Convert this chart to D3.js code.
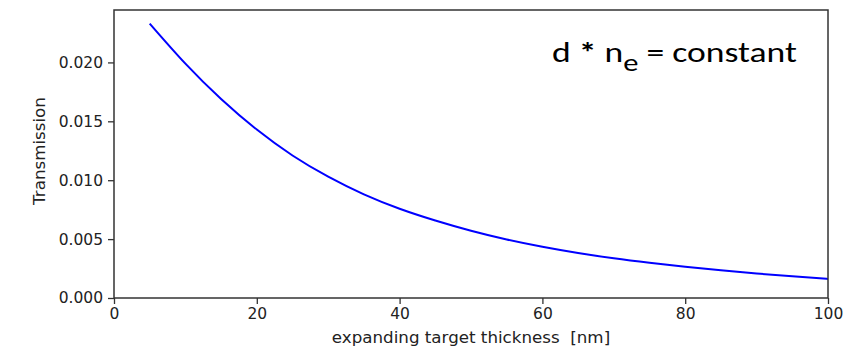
<!DOCTYPE html>
<html>
<head>
<meta charset="utf-8">
<script src="https://cdn.jsdelivr.net/npm/d3@7"></script>
<style>
  html, body { margin: 0; padding: 0; background: #fff; }
  svg { display: block; }
</style>
</head>
<body>
<svg id="chart" width="843" height="347"></svg>
<script>
// Target thickness in nm
const thickness = [5, 10, 15, 20, 25, 30, 35, 40, 45, 50, 55, 60, 65, 70, 75, 80, 85, 90, 95, 100];
// Transmission at constant areal density (d * n_e)
const transmission = [0.0233, 0.0199, 0.0169, 0.0143, 0.0121, 0.0103, 0.0088, 0.00758, 0.00658, 0.00571,
                      0.00497, 0.00435, 0.00382, 0.00337, 0.00299, 0.00265, 0.00235, 0.00208, 0.00184, 0.00162];
const xTicks = [0, 20, 40, 60, 80, 100];
const yTicks = [0, 0.005, 0.010, 0.015, 0.020];
const xDomain = [0, 100];
const yDomain = [0, 0.02445];

const svg = d3.select("#chart");
const margin = { left: 114, right: 15, top: 10, bottom: 49 };
const W = 843, H = 347;

const x = d3.scaleLinear().domain(xDomain).range([margin.left, W - margin.right]);
const y = d3.scaleLinear().domain(yDomain).range([H - margin.bottom, margin.top]);

const tickFont = "DejaVu Sans, sans-serif";
const axisColor = "#333";

// Curve
const line = d3.line()
  .x((d, i) => x(thickness[i]))
  .y(d => y(d))
  .curve(d3.curveNatural);

svg.append("path")
  .datum(transmission)
  .attr("d", line)
  .attr("fill", "none")
  .attr("stroke", "#0000ff")
  .attr("stroke-width", 2);

// Axes
const xAxis = d3.axisBottom(x).tickValues(xTicks).tickFormat(d3.format("d")).tickSize(6).tickPadding(4);
const yAxis = d3.axisLeft(y).tickValues(yTicks).tickFormat(d3.format(".3f")).tickSize(6).tickPadding(5);

const gx = svg.append("g").attr("transform", `translate(0,${H - margin.bottom})`).call(xAxis);
const gy = svg.append("g").attr("transform", `translate(${margin.left},0)`).call(yAxis);

[gx, gy].forEach(g => {
  g.select(".domain").remove();
  g.selectAll(".tick line").attr("stroke", axisColor).attr("stroke-width", 1.3);
  g.selectAll(".tick text")
    .attr("fill", "#222")
    .style("font-family", tickFont)
    .style("font-size", "15.5px");
});

// Frame around plot area
svg.append("rect")
  .attr("x", x(xDomain[0]))
  .attr("y", y(yDomain[1]))
  .attr("width", x(xDomain[1]) - x(xDomain[0]))
  .attr("height", y(yDomain[0]) - y(yDomain[1]))
  .attr("fill", "none")
  .attr("stroke", axisColor)
  .attr("stroke-width", 1.5);

// Axis titles
svg.append("text")
  .attr("x", 471)
  .attr("y", 343)
  .attr("text-anchor", "middle")
  .attr("fill", "#222")
  .attr("xml:space", "preserve")
  .style("font-family", tickFont)
  .style("font-size", "16.7px")
  .text("expanding target thickness  [nm]");

svg.append("text")
  .attr("transform", "translate(45,151) rotate(-90)")
  .attr("text-anchor", "middle")
  .attr("fill", "#222")
  .style("font-family", tickFont)
  .style("font-size", "16.7px")
  .text("Transmission");

// Annotation, stretched to its box width
const noteG = svg.append("g");
const note = noteG.append("text")
  .attr("x", 0)
  .attr("y", 0)
  .attr("fill", "#000")
  .attr("xml:space", "preserve")
  .style("font-family", "Carlito, Calibri, Lato, 'Open Sans', sans-serif")
  .style("font-size", "28px");
note.append("tspan").text("d ");
note.append("tspan").style("font-weight", "bold").text("*");
note.append("tspan").text(" n");
note.append("tspan").attr("dy", 9).style("font-size", "24px").text("e");
note.append("tspan").attr("dy", -9).text(" = constant");
const bb = note.node().getBBox();
const sx = 245 / bb.width;
noteG.attr("transform", `translate(${552 - bb.x * sx},62) scale(${sx},1)`);
</script>
</body>
</html>
